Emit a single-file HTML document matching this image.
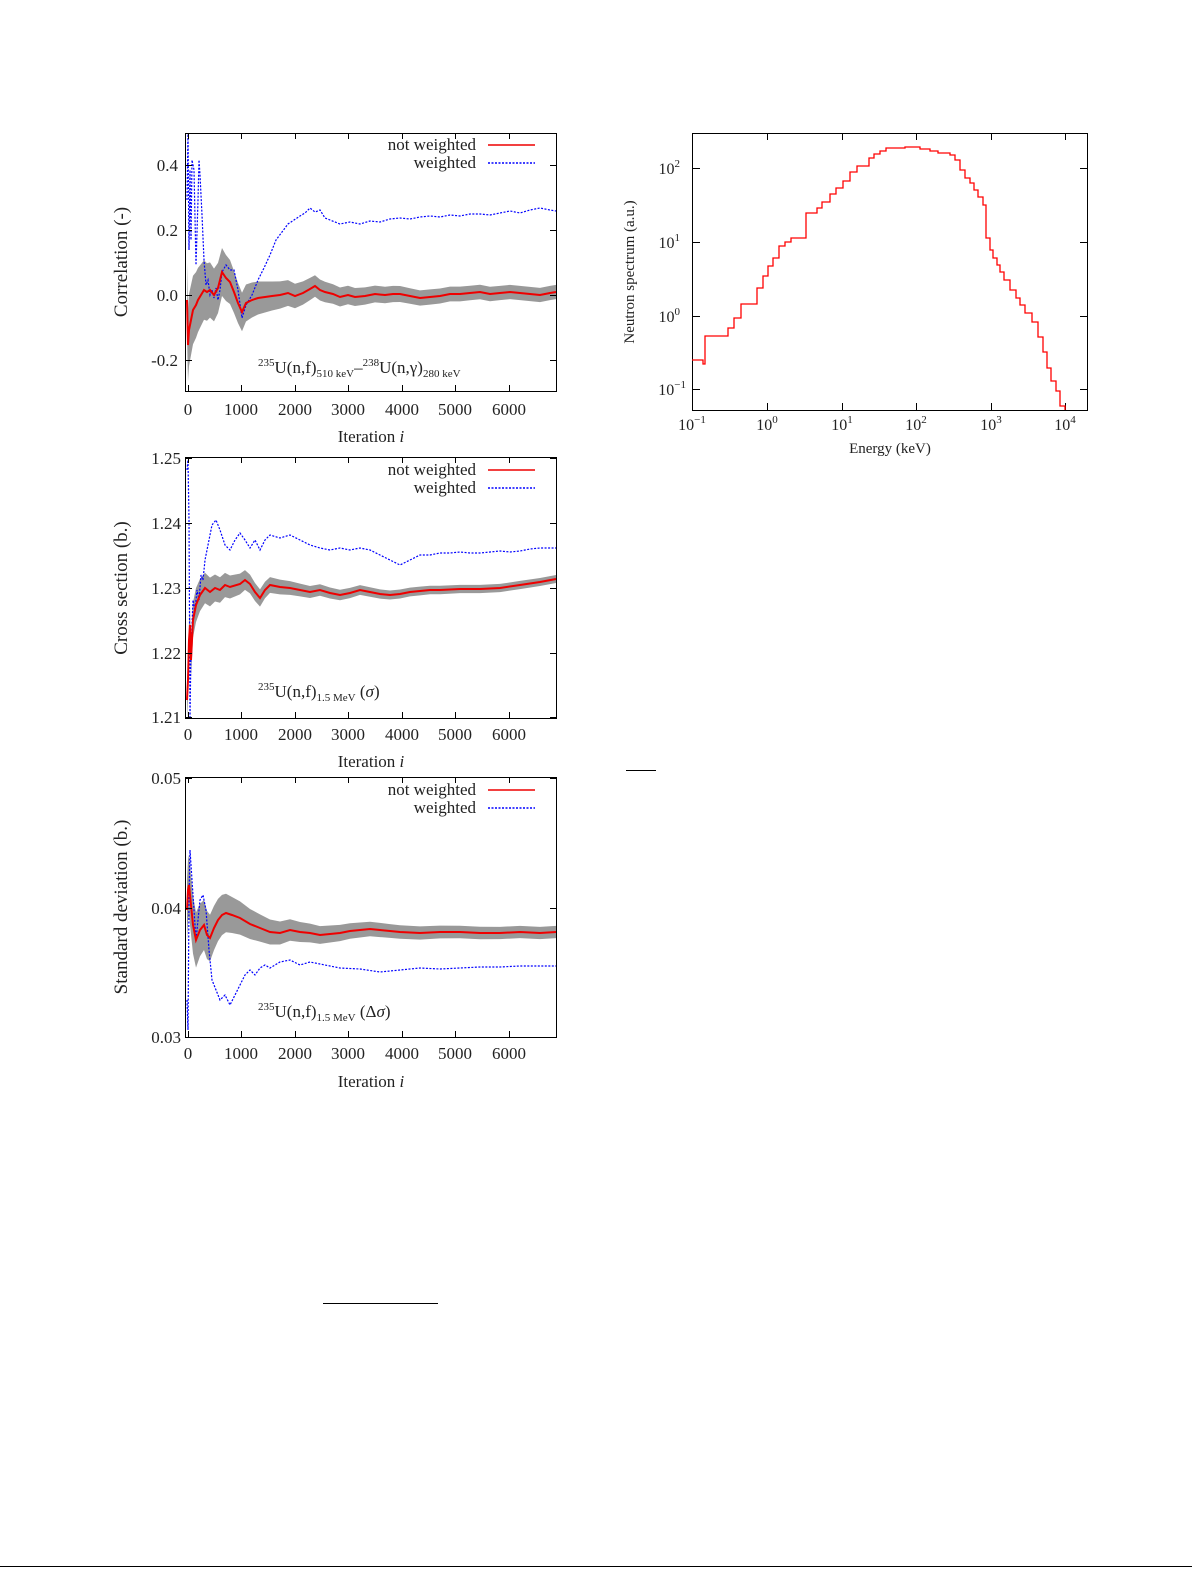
<!DOCTYPE html>
<html><head><meta charset="utf-8"><style>
body{margin:0;background:#fff}
svg{display:block}
text{font-family:"Liberation Serif",serif;fill:#222}
</style></head><body>
<svg id="s" width="1192" height="1571" viewBox="0 0 1192 1571" xmlns="http://www.w3.org/2000/svg">
<g id="bands"></g>
<g id="lines"></g>
<g fill="none" stroke="#000" stroke-width="1">
<rect x="185.5" y="133.5" width="371" height="258"/>
<rect x="185.5" y="457.5" width="371" height="261"/>
<rect x="185.5" y="777.5" width="371" height="260"/>
<rect x="692.5" y="133.5" width="395" height="277"/>
</g>
<g id="ticks" stroke="#000" stroke-width="1"></g>
<g font-size="17" text-anchor="middle">
<text x="188" y="415">0</text><text x="241" y="415">1000</text><text x="295" y="415">2000</text><text x="348" y="415">3000</text><text x="402" y="415">4000</text><text x="455" y="415">5000</text><text x="509" y="415">6000</text>
<text x="188" y="740">0</text><text x="241" y="740">1000</text><text x="295" y="740">2000</text><text x="348" y="740">3000</text><text x="402" y="740">4000</text><text x="455" y="740">5000</text><text x="509" y="740">6000</text>
<text x="188" y="1059">0</text><text x="241" y="1059">1000</text><text x="295" y="1059">2000</text><text x="348" y="1059">3000</text><text x="402" y="1059">4000</text><text x="455" y="1059">5000</text><text x="509" y="1059">6000</text>
<text x="371" y="442">Iteration <tspan font-style="italic">i</tspan></text>
<text x="371" y="767">Iteration <tspan font-style="italic">i</tspan></text>
<text x="371" y="1087">Iteration <tspan font-style="italic">i</tspan></text>
</g>
<g font-size="17" text-anchor="end">
<text x="178" y="171">0.4</text><text x="178" y="236">0.2</text><text x="178" y="301">0.0</text><text x="178" y="366">-0.2</text>
<text x="181" y="464">1.25</text><text x="181" y="529">1.24</text><text x="181" y="594">1.23</text><text x="181" y="659">1.22</text><text x="181" y="723">1.21</text>
<text x="181" y="784">0.05</text><text x="181" y="914">0.04</text><text x="181" y="1043">0.03</text>
</g>
<g font-size="19" text-anchor="middle">
<text transform="translate(127,262) rotate(-90)">Correlation (-)</text>
<text transform="translate(127,588) rotate(-90)">Cross section (b.)</text>
<text transform="translate(127,907) rotate(-90)">Standard deviation (b.)</text>
</g>
<g font-size="17">
<text x="476" y="150" text-anchor="end">not weighted</text>
<text x="476" y="168" text-anchor="end">weighted</text>
<text x="476" y="475" text-anchor="end">not weighted</text>
<text x="476" y="493" text-anchor="end">weighted</text>
<text x="476" y="795" text-anchor="end">not weighted</text>
<text x="476" y="813" text-anchor="end">weighted</text>
<text x="258" y="373"><tspan font-size="11" dy="-7">235</tspan><tspan dy="7">U(n,f)</tspan><tspan font-size="11" dy="4">510 keV</tspan><tspan dy="-4">–</tspan><tspan font-size="11" dy="-7">238</tspan><tspan dy="7">U(n,γ)</tspan><tspan font-size="11" dy="4">280 keV</tspan></text>
<text x="258" y="697"><tspan font-size="11" dy="-7">235</tspan><tspan dy="7">U(n,f)</tspan><tspan font-size="11" dy="4">1.5 MeV</tspan><tspan dy="-4"> (<tspan font-style="italic">σ</tspan>)</tspan></text>
<text x="258" y="1017"><tspan font-size="11" dy="-7">235</tspan><tspan dy="7">U(n,f)</tspan><tspan font-size="11" dy="4">1.5 MeV</tspan><tspan dy="-4"> (Δ<tspan font-style="italic">σ</tspan>)</tspan></text>
</g>
<g stroke-width="1.5" fill="none">
<line x1="488" y1="145" x2="535" y2="145" stroke="#e00"/>
<line x1="488" y1="163" x2="535" y2="163" stroke="#00f" stroke-dasharray="2,1.5"/>
<line x1="488" y1="470" x2="535" y2="470" stroke="#e00"/>
<line x1="488" y1="488" x2="535" y2="488" stroke="#00f" stroke-dasharray="2,1.5"/>
<line x1="488" y1="790" x2="535" y2="790" stroke="#e00"/>
<line x1="488" y1="808" x2="535" y2="808" stroke="#00f" stroke-dasharray="2,1.5"/>
</g>
<!-- spectrum -->
<path fill="none" stroke="#f00" stroke-width="1.3" d="M692,360 H703 V364 H705 V336 H728 V328 H734 V318 H741 V304 H757 V288 H763 V276 H768 V266 H773 V258 H779 V246 H785 V242 H791 V238 H806 V213 H817 V208 H822 V202 H830 V194 H836 V188 H843 V181 H850 V172 H857 V166 H869 V158 H874 V154 H880 V151 H886 V148 H905 V147 H920 V149 H930 V151 H938 V153 H950 V155 H955 V160 H960 V170 H965 V178 H970 V183 H974 V190 H978 V197 H983 V205 H986 V238 H990 V250 H993 V258 H997 V265 H1000 V272 H1004 V280 H1010 V290 H1016 V298 H1020 V305 H1025 V313 H1032 V322 H1038 V337 H1043 V352 H1047 V368 H1051 V381 H1056 V391 H1060 V406 H1065 V410"/>
<g font-size="16" text-anchor="middle">
<text x="692" y="430">10<tspan font-size="11" dy="-7">−1</tspan></text>
<text x="767" y="430">10<tspan font-size="11" dy="-7">0</tspan></text>
<text x="842" y="430">10<tspan font-size="11" dy="-7">1</tspan></text>
<text x="916" y="430">10<tspan font-size="11" dy="-7">2</tspan></text>
<text x="991" y="430">10<tspan font-size="11" dy="-7">3</tspan></text>
<text x="1065" y="430">10<tspan font-size="11" dy="-7">4</tspan></text>
<text x="890" y="453" font-size="15">Energy (keV)</text>
<text transform="translate(634,272) rotate(-90)" font-size="15">Neutron spectrum (a.u.)</text>
</g>
<g font-size="16" text-anchor="end">
<text x="680" y="174">10<tspan font-size="11" dy="-7">2</tspan></text>
<text x="680" y="248">10<tspan font-size="11" dy="-7">1</tspan></text>
<text x="680" y="322">10<tspan font-size="11" dy="-7">0</tspan></text>
<text x="686" y="395">10<tspan font-size="11" dy="-7">−1</tspan></text>
</g>
<g stroke="#000" stroke-width="1">
<line x1="626" y1="770.5" x2="656" y2="770.5"/>
<line x1="323" y1="1303.5" x2="438" y2="1303.5"/>
<line x1="0" y1="1566.5" x2="1192" y2="1566.5"/>
</g>
</svg>
<script>
var NS="http://www.w3.org/2000/svg";
function P(a){return a.map(function(p){return p[0]+","+p[1]}).join(" ")}
function line(par,a,col,dash){var e=document.createElementNS(NS,"polyline");e.setAttribute("points",P(a));e.setAttribute("fill","none");e.setAttribute("stroke",col);e.setAttribute("stroke-width",col=="#e00"?"2":"1.2");if(dash)e.setAttribute("stroke-dasharray","2,1.5");document.getElementById(par).appendChild(e);}
function band(a,w0,w1){var up=[],dn=[];var n=a.length;for(var i=0;i<n;i++){var t=(a[i][0]-187)/370;var w=w0*Math.exp(-t*6)+w1;up.push([a[i][0],a[i][1]-w]);dn.unshift([a[i][0],a[i][1]+w]);}var e=document.createElementNS(NS,"polygon");e.setAttribute("points",P(up.concat(dn)));e.setAttribute("fill","#999");document.getElementById("bands").appendChild(e);}
var r1=[[187,300],[188,345],[189,330],[191,320],[193,310],[196,305],[198,300],[201,295],[204,290],[207,292],[210,290],[214,295],[218,288],[222,272],[226,278],[230,282],[234,292],[238,303],[242,312],[246,303],[252,300],[258,298],[265,297],[272,296],[280,295],[288,293],[295,296],[303,293],[310,289],[315,286],[320,290],[325,292],[333,294],[340,297],[348,295],[355,297],[365,296],[375,294],[385,295],[393,294],[400,294],[410,296],[420,298],[430,297],[440,296],[450,294],[460,294],[470,293],[480,292],[490,294],[500,293],[510,292],[520,293],[530,294],[540,295],[550,293],[556,292]];
var b1=[[187,200],[188,134],[189,250],[190,170],[191,240],[192,160],[194,170],[196,265],[198,200],[199,160],[200,175],[202,215],[204,260],[206,285],[208,280],[210,295],[212,290],[214,298],[216,288],[218,300],[220,290],[222,272],[226,265],[230,270],[234,270],[238,290],[242,318],[246,305],[252,295],[258,280],[264,268],[270,255],[276,240],[282,232],[288,224],[294,220],[300,216],[305,213],[310,208],[315,212],[320,210],[325,218],[330,220],[340,224],[350,222],[360,224],[370,221],[380,222],[390,219],[400,218],[410,219],[420,217],[430,216],[440,217],[450,215],[460,216],[470,214],[480,214],[490,215],[500,213],[510,211],[520,213],[530,210],[540,208],[550,210],[556,211]];
var r2=[[187,700],[188,680],[189,640],[190,625],[191,660],[193,620],[196,605],[200,595],[205,588],[210,592],[215,588],[220,590],[225,585],[230,587],[240,584],[245,580],[250,584],[255,592],[260,598],[265,590],[270,585],[280,587],[290,588],[300,590],[310,592],[320,590],[330,593],[340,595],[350,593],[360,590],[370,592],[380,594],[390,595],[400,594],[410,592],[420,591],[430,590],[440,590],[460,589],[480,589],[500,588],[520,585],[540,582],[556,579]];
var b2=[[187,470],[188,460],[189,520],[190,717],[191,650],[193,600],[195,610],[197,590],[199,600],[201,575],[203,580],[205,560],[208,545],[212,525],[216,520],[220,530],[225,545],[230,550],[235,540],[240,533],[245,540],[250,548],[255,540],[260,550],[265,540],[270,535],[280,538],[290,535],[300,540],[310,545],[320,548],[330,550],[340,548],[350,550],[360,548],[370,550],[380,555],[390,560],[400,565],[410,560],[420,555],[430,555],[440,553],[450,553],[460,552],[470,553],[480,553],[490,552],[500,551],[510,552],[520,551],[530,549],[540,548],[556,548]];
var r3=[[187,910],[188,890],[189,885],[191,905],[193,925],[196,940],[200,930],[204,925],[207,935],[210,938],[214,928],[218,920],[222,915],[226,913],[232,915],[240,918],[250,924],[260,928],[270,932],[280,933],[290,930],[300,932],[310,933],[320,935],[330,934],[340,933],[350,931],[360,930],[370,929],[380,930],[390,931],[400,932],[420,933],[440,932],[460,932],[480,933],[500,933],[520,932],[540,933],[556,932]];
var b3=[[187,1000],[188,1030],[189,900],[190,850],[192,880],[194,910],[196,940],[198,920],[200,900],[203,895],[206,910],[209,950],[212,980],[216,990],[220,1000],[225,995],[230,1005],[235,995],[240,985],[245,975],[250,970],[255,975],[260,968],[265,965],[270,968],[280,962],[290,960],[300,965],[310,962],[320,964],[330,966],[340,968],[360,969],[380,972],[400,970],[420,968],[440,969],[460,968],[480,967],[500,967],[520,966],[540,966],[556,966]];
band(r1,30,7);band(r2,15,4);band(r3,25,6);
line("lines",b1,"#00f",1);line("lines",r1,"#e00");
line("lines",b2,"#00f",1);line("lines",r2,"#e00");
line("lines",b3,"#00f",1);line("lines",r3,"#e00");
var T=document.getElementById("ticks");
function tk(x1,y1,x2,y2){var e=document.createElementNS(NS,"line");e.setAttribute("x1",x1);e.setAttribute("y1",y1);e.setAttribute("x2",x2);e.setAttribute("y2",y2);T.appendChild(e);}
var xs=[188,241,295,348,402,455,509];
[[133,391],[457,718],[777,1037]].forEach(function(f){xs.forEach(function(x){tk(x+.5,f[1],x+.5,f[1]-6);tk(x+.5,f[0],x+.5,f[0]+6);});});
[165,230,295,360,458,523,588,653,717,778,908,1037].forEach(function(y){tk(186,y+.5,192,y+.5);tk(556,y+.5,550,y+.5);});
[692,767,842,916,991,1065].forEach(function(x,i){tk(x+.5,410,x+.5,403);tk(x+.5,133,x+.5,140);});
[168,242,316,389].forEach(function(y){tk(693,y+.5,700,y+.5);tk(1087,y+.5,1080,y+.5);});
</script>
</body></html>
